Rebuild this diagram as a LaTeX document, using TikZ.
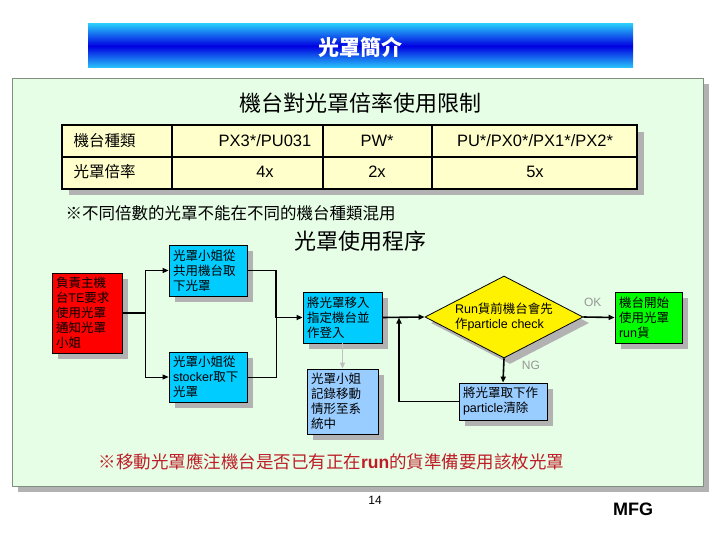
\documentclass[tikz,border=0pt]{standalone}
\usepackage{fontspec}
\setmainfont{Liberation Sans}
\newfontfamily\cjk{Noto Sans CJK TC}
\usepackage{xcolor}
\usepackage{tikz}
\usetikzlibrary{positioning, arrows.meta, shapes.geometric, shadows, calc}
\definecolor{panelfill}{RGB}{230,254,230}
\definecolor{panelline}{RGB}{128,144,128}
\definecolor{shadowgray}{RGB}{178,178,178}
\definecolor{tablefill}{RGB}{255,255,204}
\definecolor{stepcyan}{RGB}{0,204,255}
\definecolor{steplight}{RGB}{153,204,255}
\definecolor{stepred}{RGB}{255,0,0}
\definecolor{stepgreen}{RGB}{0,255,0}
\definecolor{notered}{RGB}{190,30,40}
\definecolor{lblgray}{RGB}{150,150,150}
\definecolor{bannertop}{RGB}{40,200,250}
\definecolor{bannermid}{RGB}{0,0,225}
\newcommand{\eng}[1]{{\rmfamily #1}}
\tikzset{
  stepbox/.style ={draw, line width=0.8pt, align=left, inner xsep=4pt, inner ysep=0pt,
                   font=\cjk\fontsize{12.5}{15}\selectfont,
                   drop shadow={shadow xshift=6pt, shadow yshift=-6pt, fill=shadowgray, opacity=1}},
  checkbox/.style={stepbox, diamond, inner sep=0pt, aspect=1.93, fill=yellow},
  flow/.style    ={-{Triangle[length=6pt, width=5pt]}, line width=1.6pt},
  thinflow/.style={-{Triangle[length=6pt, width=5pt]}, line width=0.8pt},
  lbl/.style     ={font=\fontsize{12}{14}\selectfont, text=lblgray},
  cellcjk/.style ={font=\cjk\fontsize{15.5}{18}\selectfont},
  cellen/.style  ={font=\fontsize{16.5}{19}\selectfont},
}

\begin{document}
\begin{tikzpicture}[x=1pt, y=-1pt]
  \useasboundingbox (0,0) rectangle (720,540);
  % banner
  \shade[top color=bannertop, bottom color=bannertop, middle color=bannermid] (88,24) rectangle (633,68);
  \node[text=white, font=\cjk\bfseries\fontsize{21}{24}\selectfont] (title) at (360,47) {光罩簡介};
  % panel
  \fill[shadowgray] (18,84) rectangle (709,492);
  \draw[panelline, fill=panelfill, line width=0.8pt] (12,78) rectangle (703,486);
  \node[font=\cjk\fontsize{22}{26}\selectfont] (limit) at (360,103) {機台對光罩倍率使用限制};
  % table
  \fill[shadowgray] (69,132) rectangle (644,195);
  \draw[fill=tablefill, line width=1.6pt] (62,125) rectangle (637,189);
  \draw[line width=1.6pt] (62,157) -- (637,157)
    (172,125) -- (172,189) (323,125) -- (323,189) (432,125) -- (432,189);
  \node[cellcjk, anchor=west] (kind)  at (70,141)  {機台種類};
  \node[cellcjk, anchor=west] (ratio) at (70,172)  {光罩倍率};
  \node[cellen] (pxa) at (265,141) {PX3*/PU031};
  \node[cellen] (pwa) at (377,141) {PW*};
  \node[cellen] (pua) at (535,141) {PU*/PX0*/PX1*/PX2*};
  \node[cellen] (pxb) at (265,172) {4x};
  \node[cellen] (pwb) at (377,172) {2x};
  \node[cellen] (pub) at (535,172) {5x};
  \node[anchor=west, font=\cjk\fontsize{16.5}{19}\selectfont] (mixnote) at (62,213) {※不同倍數的光罩不能在不同的機台種類混用};
  \node[font=\cjk\fontsize{22}{26}\selectfont] (procedure) at (360,241) {光罩使用程序};
  % flow
  \node[stepbox, fill=stepred, minimum width=70pt, minimum height=80pt, text width=62pt] (request) at (87,313)
    {負責主機\\台\eng{TE}要求\\使用光罩\\通知光罩\\小姐};
  \node[stepbox, fill=stepcyan, minimum width=78pt, minimum height=51pt, text width=70pt] (shared) at (208,270.5)
    {光罩小姐從\\共用機台取\\下光罩};
  \node[stepbox, fill=stepcyan, minimum width=78pt, minimum height=50pt, text width=70pt] (stocker) at (208,377)
    {光罩小姐從\\\eng{stocker}取下\\光罩};
  \node[stepbox, fill=stepcyan, minimum width=79pt, minimum height=51pt, text width=71pt] (login) at (342.5,317.5)
    {將光罩移入\\指定機台並\\作登入};
  \node[stepbox, fill=steplight, minimum width=71pt, minimum height=65pt, text width=63pt] (record) at (342.5,401.5)
    {光罩小姐\\記錄移動\\情形至系\\統中};
  \node[checkbox, minimum width=158pt, minimum height=82pt] (check) at (504,317)
    {\eng{Run}貨前機台會先\\作\eng{particle check}};
  \node[stepbox, fill=steplight, minimum width=88pt, minimum height=37pt, text width=80pt] (clean) at (503,401.5)
    {將光罩取下作\\\eng{particle}清除};
  \node[stepbox, fill=stepgreen, minimum width=67pt, minimum height=51pt, text width=59pt] (start) at (648.5,317.5)
    {機台開始\\使用光罩\\\eng{run}貨};
  \coordinate (joinlogin) at (276,317.5);
  \coordinate (backin) at (399,317.5);
  \draw[flow]     (request.east) -- ++(23,0) |- (shared.west);
  \draw[thinflow] ($(request.east)+(23,0)$) |- (stocker.west);
  \draw[flow]     (shared.east) -| (joinlogin) -- (login.west);
  \draw[line width=0.8pt] (stocker.east) -| (joinlogin);
  \draw[-{Triangle[length=6pt, width=5pt]}, line width=1.6pt, lblgray!60] (login.south) -- (record.north);
  \draw[flow] (login.east) -- (check.west);
  \draw[flow] (check.east) -- node[lbl, above=6pt, pos=0.3]{OK} (start.west);
  \draw[flow] (check.south) -- node[lbl, right=14pt, pos=0.3]{NG} (clean.north);
  \draw[flow] (clean.west) -| (backin);
  % bottom notes
  \node[anchor=west, text=notered, font=\cjk\fontsize{17.5}{20}\selectfont] (runnote) at (95,462)
    {※移動光罩應注機台是否已有正在{\rmfamily\bfseries run}的貨準備要用該枚光罩};
  \node[font=\fontsize{12}{14}\selectfont] (page) at (375,500) {14};
  \node[font=\bfseries\fontsize{18}{20}\selectfont] (mfg) at (633,509) {MFG};
\end{tikzpicture}
\end{document}
